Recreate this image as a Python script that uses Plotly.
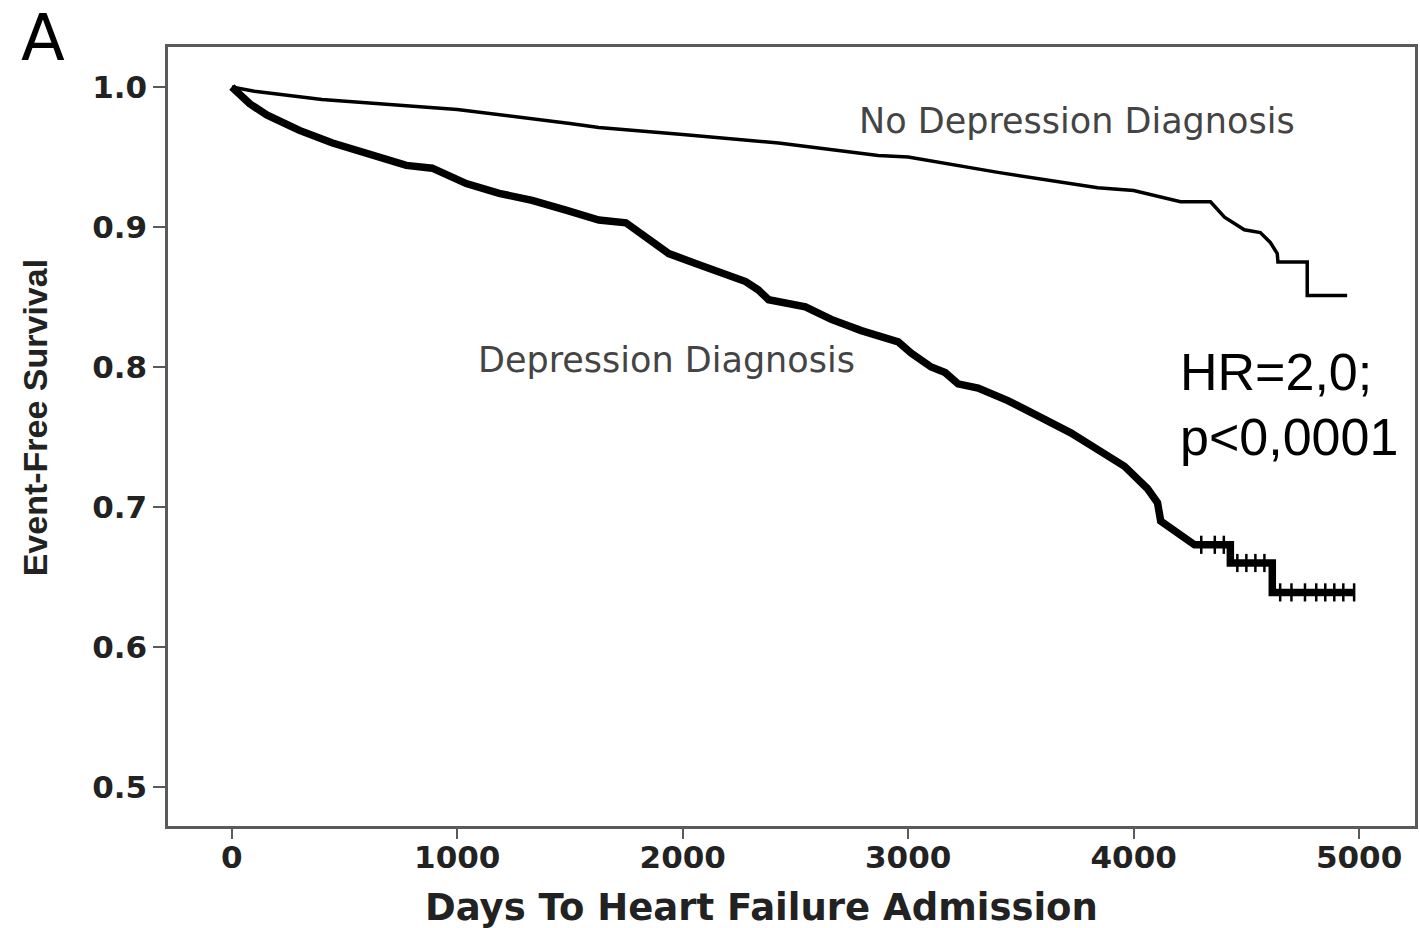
import plotly.graph_objects as go

# ---- data ----
no_dep_days = [0, 100, 400, 743, 1000, 1500, 1628, 2000, 2425, 2867, 3000, 3398, 3841, 4000,
               4208, 4341, 4403, 4491, 4562, 4606, 4637, 4640, 4770, 4770, 4947]
no_dep_surv = [1.0, 0.997, 0.991, 0.987, 0.984, 0.974, 0.971, 0.966, 0.960, 0.951, 0.950, 0.939, 0.928, 0.926,
               0.918, 0.918, 0.907, 0.898, 0.896, 0.889, 0.881, 0.875, 0.875, 0.851, 0.851]

dep_days = [0, 30, 80, 155, 300, 447, 597, 774, 889, 1040, 1186, 1332, 1482, 1628, 1748,
            1836, 1938, 2057, 2159, 2279, 2336, 2381, 2544, 2659, 2792, 2956, 3013, 3102, 3164,
            3221, 3310, 3442, 3588, 3721, 3841, 3960, 4062, 4106, 4120, 4239, 4270,
            4429, 4429, 4615, 4615, 4978]
dep_surv = [1.0, 0.995, 0.988, 0.980, 0.969, 0.960, 0.953, 0.944, 0.942, 0.931, 0.924, 0.919, 0.912, 0.905, 0.903,
            0.893, 0.881, 0.874, 0.868, 0.861, 0.855, 0.848, 0.843, 0.834, 0.826, 0.818, 0.810, 0.800, 0.796,
            0.788, 0.785, 0.776, 0.764, 0.753, 0.741, 0.729, 0.713, 0.703, 0.690, 0.677, 0.673,
            0.673, 0.660, 0.660, 0.639, 0.639]

dep_censor_days = [4300, 4360, 4400, 4460, 4500, 4540, 4580, 4650, 4700, 4760, 4810, 4850, 4890, 4930, 4978]
dep_censor_surv = [0.673, 0.673, 0.673, 0.660, 0.660, 0.660, 0.660, 0.639, 0.639, 0.639, 0.639, 0.639, 0.639, 0.639, 0.639]

x_ticks = [0, 1000, 2000, 3000, 4000, 5000]
y_ticks = [0.5, 0.6, 0.7, 0.8, 0.9, 1.0]

label_no_dep = "No Depression Diagnosis"
label_dep = "Depression Diagnosis"
stat_line1 = "HR=2,0;"
stat_line2 = "p<0,0001"

fig = go.Figure()
fig.add_trace(go.Scatter(x=no_dep_days, y=no_dep_surv, mode="lines",
                         line=dict(color="#000000", width=3.5), showlegend=False))
fig.add_trace(go.Scatter(x=dep_days, y=dep_surv, mode="lines",
                         line=dict(color="#000000", width=7.5), showlegend=False))
fig.add_trace(go.Scatter(x=dep_censor_days, y=dep_censor_surv, mode="markers",
                         marker=dict(symbol="line-ns", size=13, line=dict(color="#000000", width=2.5)),
                         showlegend=False))

axis_common = dict(showline=True, linecolor="#5a5a5a", linewidth=2.5, mirror=True,
                   ticks="outside", tickwidth=2, tickcolor="#5a5a5a",
                   showgrid=False, zeroline=False,
                   tickfont=dict(family="DejaVu Sans", size=31, color="#222222", weight="bold"))

fig.update_xaxes(range=[-283, 5248], tickvals=x_ticks, ticktext=[str(v) for v in x_ticks],
                 ticklen=10, ticklabelstandoff=-8, **axis_common)
fig.update_yaxes(range=[0.47214, 1.02857], tickvals=y_ticks, ticktext=[f"{v:.1f}" for v in y_ticks],
                 ticklen=12, **axis_common)

annotations = [
    dict(x=3748, y=0.9757, xref="x", yref="y", text=label_no_dep, showarrow=False,
         font=dict(family="DejaVu Sans", size=35, color="#444444"), xanchor="center", yanchor="middle"),
    dict(x=1929, y=0.805, xref="x", yref="y", text=label_dep, showarrow=False,
         font=dict(family="DejaVu Sans", size=35, color="#444444"), xanchor="center", yanchor="middle"),
    dict(x=4195, y=0.7964, xref="x", yref="y", text=stat_line1, showarrow=False,
         font=dict(family="Liberation Sans", size=52, color="#000000"), xanchor="left", yanchor="middle"),
    dict(x=4195, y=0.750, xref="x", yref="y", text=stat_line2, showarrow=False,
         font=dict(family="Liberation Sans", size=52, color="#000000"), xanchor="left", yanchor="middle"),
    dict(x=-0.1, y=1.0116, xref="paper", yref="paper", text="A", showarrow=False,
         font=dict(family="DejaVu Sans", size=64, color="#000000"), xanchor="center", yanchor="middle"),
    dict(x=0.476, y=-0.105, xref="paper", yref="paper", text="Days To Heart Failure Admission", showarrow=False,
         font=dict(family="DejaVu Sans", size=37, color="#222222", weight="bold"), xanchor="center", yanchor="middle"),
    dict(x=-0.1064, y=0.5237, xref="paper", yref="paper", text="Event-Free Survival", showarrow=False,
         textangle=-90,
         font=dict(family="Liberation Sans", size=34, color="#222222", weight="bold"), xanchor="center", yanchor="middle"),
]

fig.update_layout(width=1420, height=928, margin=dict(l=168, r=2, t=47, b=102),
                  paper_bgcolor="white", plot_bgcolor="white", annotations=annotations)

fig.write_html("out.html")
